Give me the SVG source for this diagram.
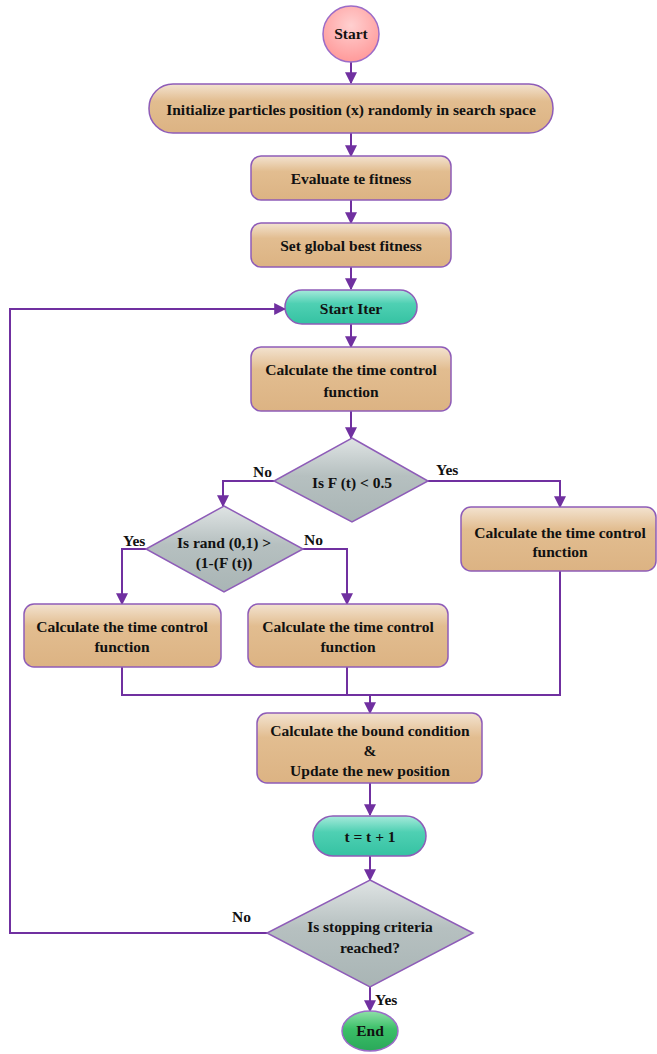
<svg xmlns="http://www.w3.org/2000/svg" width="657" height="1054" viewBox="0 0 657 1054">
<style>
text{font-family:"Liberation Serif","Times New Roman",serif;font-weight:bold;font-size:15.5px;fill:#111;text-anchor:middle}
.box{fill:url(#gTan);stroke:#8e5cb8;stroke-width:1.5}
.dia{fill:url(#gGray);stroke:#8e5cb8;stroke-width:1.5}
.teal{fill:url(#gTeal);stroke:#8e5cb8;stroke-width:1.5}
.conn path{fill:none;stroke:#7030a0;stroke-width:2}
.lbl{text-anchor:start}
</style>
<defs>
<linearGradient id="gTan" x1="0" y1="0" x2="0" y2="1">
<stop offset="0" stop-color="#f3e3d0"/><stop offset="0.35" stop-color="#e2bd90"/><stop offset="1" stop-color="#dcb383"/>
</linearGradient>
<linearGradient id="gGray" x1="0" y1="0" x2="0" y2="1">
<stop offset="0" stop-color="#dfe4e4"/><stop offset="0.45" stop-color="#b6c0c0"/><stop offset="1" stop-color="#a9b5b5"/>
</linearGradient>
<linearGradient id="gTeal" x1="0" y1="0" x2="0" y2="1">
<stop offset="0" stop-color="#a6eadb"/><stop offset="0.4" stop-color="#4fd0b3"/><stop offset="1" stop-color="#35c2a2"/>
</linearGradient>
<radialGradient id="gPink" cx="0.5" cy="0.35" r="0.65">
<stop offset="0" stop-color="#ffd0d0"/><stop offset="1" stop-color="#ff9a9a"/>
</radialGradient>
<linearGradient id="gGreen" x1="0" y1="0" x2="0" y2="1">
<stop offset="0" stop-color="#8fe0a8"/><stop offset="0.45" stop-color="#3bbf68"/><stop offset="1" stop-color="#2aa859"/>
</linearGradient>
<marker id="ah" viewBox="0 0 10 10" refX="9" refY="5" markerWidth="6" markerHeight="6" orient="auto" markerUnits="strokeWidth">
<path d="M0,0 L10,5 L0,10 z" fill="#7030a0"/>
</marker>
</defs>

<g class="conn" id="connectors">
<path d="M351,62 V83" marker-end="url(#ah)"/>
<path d="M351,133 V156" marker-end="url(#ah)"/>
<path d="M351,200 V223" marker-end="url(#ah)"/>
<path d="M351,267 V289" marker-end="url(#ah)"/>
<path d="M351,324 V347" marker-end="url(#ah)"/>
<path d="M351,411 V438" marker-end="url(#ah)"/>
<path d="M274,481 H223 V506" marker-end="url(#ah)"/>
<path d="M428,481 H560 V507" marker-end="url(#ah)"/>
<path d="M146,549 H122 V604" marker-end="url(#ah)"/>
<path d="M303,549 H347 V604" marker-end="url(#ah)"/>
<path d="M122,667 V695 H560 V571"/>
<path d="M347,667 V695"/>
<path d="M370,695 V713" marker-end="url(#ah)"/>
<path d="M370,783 V815" marker-end="url(#ah)"/>
<path d="M370,856 V880" marker-end="url(#ah)"/>
<path d="M370,987 V1011" marker-end="url(#ah)"/>
<path d="M267,933 H10 V309 H285" marker-end="url(#ah)"/>
</g>

<g id="start">
<circle cx="351" cy="34" r="28" fill="url(#gPink)" stroke="#9b6cc8" stroke-width="1.5"/>
<text x="351" y="39">Start</text>
</g>
<g id="init">
<rect class="box" x="149" y="84" width="404" height="49" rx="24"/>
<text x="351" y="115">Initialize particles position (x) randomly in search space</text>
</g>
<g id="evaluate">
<rect class="box" x="251" y="156" width="200" height="44" rx="10"/>
<text x="351" y="184">Evaluate te fitness</text>
</g>
<g id="setbest">
<rect class="box" x="251" y="223" width="200" height="44" rx="10"/>
<text x="351" y="251">Set global best fitness</text>
</g>
<g id="startiter">
<rect class="teal" x="285" y="290" width="132" height="34" rx="17"/>
<text x="351" y="314">Start Iter</text>
</g>
<g id="calc1">
<rect class="box" x="251" y="347" width="200" height="64" rx="10"/>
<text x="351" y="375">Calculate the time control</text>
<text x="351" y="397">function</text>
</g>
<g id="dec1">
<polygon class="dia" points="352,438 428,481 352,522 274,481"/>
<text x="352" y="488">Is F (t) &lt; 0.5</text>
</g>
<g id="dec2">
<polygon class="dia" points="224,506 303,549 224,592 146,549"/>
<text x="224" y="548">Is rand (0,1) &gt;</text>
<text x="224" y="568">(1-(F (t))</text>
</g>
<g id="calcR">
<rect class="box" x="461" y="507" width="195" height="64" rx="10"/>
<text x="560" y="538">Calculate the time control</text>
<text x="560" y="557">function</text>
</g>
<g id="calcL">
<rect class="box" x="24" y="604" width="197" height="63" rx="10"/>
<text x="122" y="632">Calculate the time control</text>
<text x="122" y="652">function</text>
</g>
<g id="calcM">
<rect class="box" x="248" y="604" width="200" height="63" rx="10"/>
<text x="348" y="632">Calculate the time control</text>
<text x="348" y="652">function</text>
</g>
<g id="bound">
<rect class="box" x="257" y="713" width="225" height="70" rx="10"/>
<text x="370" y="736">Calculate the bound condition</text>
<text x="370" y="756">&amp;</text>
<text x="370" y="776">Update the new position</text>
</g>
<g id="incr">
<rect class="teal" x="313" y="816" width="113" height="40" rx="20"/>
<text x="370" y="842">t = t + 1</text>
</g>
<g id="dec3">
<polygon class="dia" points="370,880 473,933 370,987 267,933"/>
<text x="370" y="932">Is stopping criteria</text>
<text x="370" y="953">reached?</text>
</g>
<g id="end">
<ellipse cx="370" cy="1031" rx="28" ry="20" fill="url(#gGreen)" stroke="#9b6cc8" stroke-width="1.5"/>
<text x="370" y="1036">End</text>
</g>
<g id="labels">
<text class="lbl" x="253" y="477">No</text>
<text class="lbl" x="436" y="475">Yes</text>
<text class="lbl" x="123" y="546">Yes</text>
<text class="lbl" x="304" y="545">No</text>
<text class="lbl" x="232" y="922">No</text>
<text class="lbl" x="375" y="1005">Yes</text>
</g>
</svg>
